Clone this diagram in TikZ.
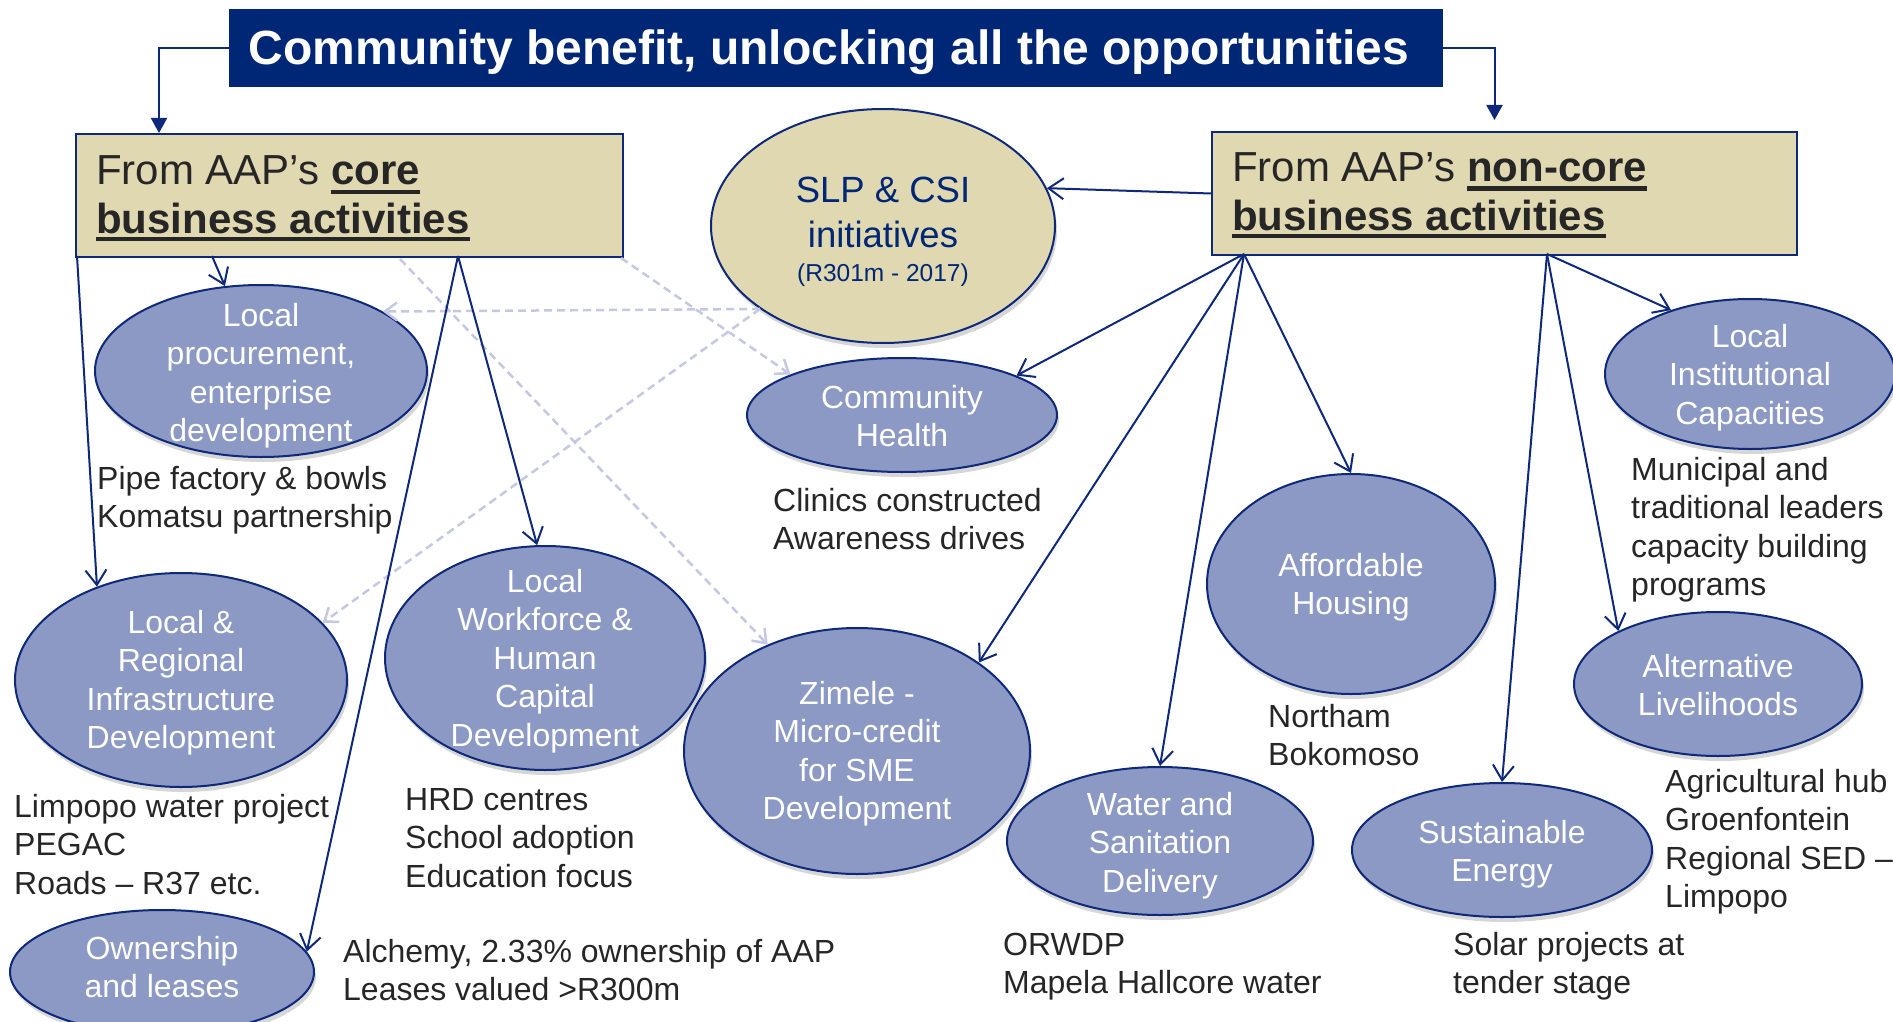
\documentclass[tikz,border=0pt]{standalone}
\usepackage{fontspec}
\setmainfont{Liberation Sans}
\usetikzlibrary{shapes.geometric,arrows.meta,shadows}
\definecolor{navy}{RGB}{0,39,118}
\definecolor{lnavy}{RGB}{14,40,122}
\definecolor{tanfill}{RGB}{224,216,177}
\definecolor{peri}{RGB}{139,153,196}
\definecolor{dashc}{RGB}{196,200,227}
\definecolor{txt}{RGB}{38,38,38}
\newsavebox\ulbox
\newcommand{\ulw}[1]{\sbox\ulbox{#1}\rlap{\rule[-8.5pt]{\wd\ulbox}{4pt}}\usebox\ulbox}
\newcommand{\leftlines}[1]{\begin{tabular}[t]{@{}l@{}}#1\end{tabular}}
\newcommand{\centerlines}[1]{\begin{tabular}[t]{@{}c@{}}#1\end{tabular}}
\tikzset{
  ell/.style={ellipse, draw=lnavy, line width=2pt, fill=peri, inner sep=0pt,
    drop shadow={shadow xshift=2pt, shadow yshift=-5pt, opacity=0.16, fill=black}},
  slpell/.style={ell, fill=tanfill},
  elltxt/.style={anchor=base, inner sep=0pt, text=white, font=\fontsize{32}{38.5}\selectfont},
  lbl/.style={anchor=base west, inner sep=0pt, text=txt, font=\fontsize{32}{38.5}\selectfont},
  boxnode/.style={draw=lnavy, line width=2pt, fill=tanfill, inner sep=0pt, anchor=north west},
  boxtxt/.style={anchor=base west, inner sep=0pt, text=txt, font=\fontsize{42}{48}\selectfont},
  conn/.style={draw=lnavy, line width=2pt, -{Straight Barb[length=15pt,width=21pt,line width=2pt]}},
  tconn/.style={draw=lnavy, line width=2pt, -{Triangle[length=15pt,width=16pt]}},
  dsh/.style={draw=dashc, line width=2.5pt, dash pattern=on 8pt off 5pt,
    -{Straight Barb[length=12pt,width=18pt,line width=2.5pt]}}
}
\begin{document}
\begin{tikzpicture}[x=1pt,y=-1pt]
\useasboundingbox (0,0) rectangle (1893,1022);
% title
\node[fill=navy, minimum width=1214pt, minimum height=78pt, inner sep=0pt, anchor=north west] (title) at (229,9) {};
\node[anchor=base, inner sep=0pt, text=white, font=\bfseries\fontsize{48}{56}\selectfont] (titletext) at (829,65) {Community benefit, unlocking all the opportunities};
% boxes
\node[boxnode, minimum width=547pt, minimum height=123pt] (core) at (75,133) {};
\node[boxtxt] (coretext) at (96,185) {\leftlines{From AAP’s \textbf{\ulw{core}}\\\textbf{\ulw{business activities}}}};
\node[boxnode, minimum width=585pt, minimum height=123pt] (noncore) at (1211,131) {};
\node[boxtxt] (noncoretext) at (1232,182) {\leftlines{From AAP’s \textbf{\ulw{non-core}}\\\textbf{\ulw{business activities}}}};
% ellipses
\node[slpell, minimum width=344pt, minimum height=234pt] (slp) at (883,226) {};
\node[ell, minimum width=332pt, minimum height=172pt] (proc) at (261,371) {};
\node[ell, minimum width=332pt, minimum height=214pt] (infra) at (181,680) {};
\node[ell, minimum width=320pt, minimum height=224pt] (work) at (545,658) {};
\node[ell, minimum width=346pt, minimum height=246pt] (zim) at (857,751) {};
\node[ell, minimum width=306pt, minimum height=148pt] (water) at (1160,841) {};
\node[ell, minimum width=288pt, minimum height=220pt] (afford) at (1351,584) {};
\node[ell, minimum width=310pt, minimum height=114pt] (health) at (902,415) {};
\node[ell, minimum width=290pt, minimum height=150pt] (lic) at (1750,374) {};
\node[ell, minimum width=288pt, minimum height=144pt] (alt) at (1718,684) {};
\node[ell, minimum width=300pt, minimum height=134pt] (sust) at (1502,850) {};
\node[ell, minimum width=304pt, minimum height=124pt] (own) at (162,972) {};
% ellipse texts
\node[anchor=base, inner sep=0pt, text=navy, font=\fontsize{36.5}{44}\selectfont] (slpt1) at (883,202) {SLP \& CSI};
\node[anchor=base, inner sep=0pt, text=navy, font=\fontsize{36.5}{44}\selectfont] (slpt2) at (883,247) {initiatives};
\node[anchor=base, inner sep=0pt, text=navy, font=\fontsize{24.5}{30}\selectfont] (slpt3) at (883,281) {(R301m - 2017)};
\node[elltxt] (proct) at (261,326) {\centerlines{Local\\procurement,\\enterprise\\development}};
\node[elltxt] (infrat) at (181,633) {\centerlines{Local \&\\Regional\\Infrastructure\\Development}};
\node[elltxt] (workt) at (545,592) {\centerlines{Local\\Workforce \&\\Human\\Capital\\Development}};
\node[elltxt] (zimt) at (857,704) {\centerlines{Zimele -\\Micro-credit\\for SME\\Development}};
\node[elltxt] (watert) at (1160,815) {\centerlines{Water and\\Sanitation\\Delivery}};
\node[elltxt] (affordt) at (1351,576) {\centerlines{Affordable\\Housing}};
\node[elltxt] (healtht) at (902,408) {\centerlines{Community\\Health}};
\node[elltxt] (lict) at (1750,347) {\centerlines{Local\\Institutional\\Capacities}};
\node[elltxt] (altt) at (1718,677) {\centerlines{Alternative\\Livelihoods}};
\node[elltxt] (sustt) at (1502,843) {\centerlines{Sustainable\\Energy}};
\node[elltxt] (ownt) at (162,959) {\centerlines{Ownership\\and leases}};
% labels
\node[lbl] (pipe) at (97,489) {\leftlines{Pipe factory \& bowls\\Komatsu partnership}};
\node[lbl] (clinics) at (773,511) {\leftlines{Clinics constructed\\Awareness drives}};
\node[lbl] (limpopo) at (14,817) {\leftlines{Limpopo water project\\PEGAC\\Roads – R37 etc.}};
\node[lbl] (hrd) at (405,810) {\leftlines{HRD centres\\School adoption\\Education focus}};
\node[lbl] (alchemy) at (343,962) {\leftlines{Alchemy, 2.33\% ownership of AAP\\Leases valued >R300m}};
\node[lbl] (northam) at (1268,727) {\leftlines{Northam\\Bokomoso}};
\node[lbl] (orwdp) at (1003,955) {\leftlines{ORWDP\\Mapela Hallcore water}};
\node[lbl] (municipal) at (1631,480) {\leftlines{Municipal and\\traditional leaders\\capacity building\\programs}};
\node[lbl] (agri) at (1665,792) {\leftlines{Agricultural hub\\Groenfontein\\Regional SED –\\Limpopo}};
\node[lbl] (solar) at (1453,955) {\leftlines{Solar projects at\\tender stage}};
% connector start points
\coordinate (c1) at (212,256);
\coordinate (c2) at (77,256);
\coordinate (c3) at (458,256);
\coordinate (cd1) at (400,259);
\coordinate (cd2) at (621,258);
\coordinate (nc1) at (1244,254);
\coordinate (nc2) at (1547,254);
% dashed connectors
\draw[dsh] (cd1) -- (zim.130.2);
\draw[dsh] (cd2) -- (health.160);
\draw[dsh] (slp.214.8) -- (proc.26.6);
\draw[dsh] (slp.214.8) -- (infra.22.3);
% title connectors
\draw[tconn] (title.west) -| ([xshift=84pt]core.north west);
\draw[tconn] (title.east) -| ([xshift=-10pt,yshift=11pt]noncore.north);
% solid connectors
\draw[conn] (c1) -- (proc.113.9);
\draw[conn] (c2) -- (infra.132.9);
\draw[conn] (c3) -- (work.94.6);
\draw[conn] (c3) -- (own.8);
\draw[conn] (noncore.west) -- (slp.13.2);
\draw[conn] (nc1) -- (health.19.65);
\draw[conn] (nc1) -- (zim.36.2);
\draw[conn] (nc1) -- (water.north);
\draw[conn] (nc1) -- (afford.north);
\draw[conn] (nc2) -- (lic.141.9);
\draw[conn] (nc2) -- (alt.152.1);
\draw[conn] (nc2) -- (sust.north);
\end{tikzpicture}
\end{document}
